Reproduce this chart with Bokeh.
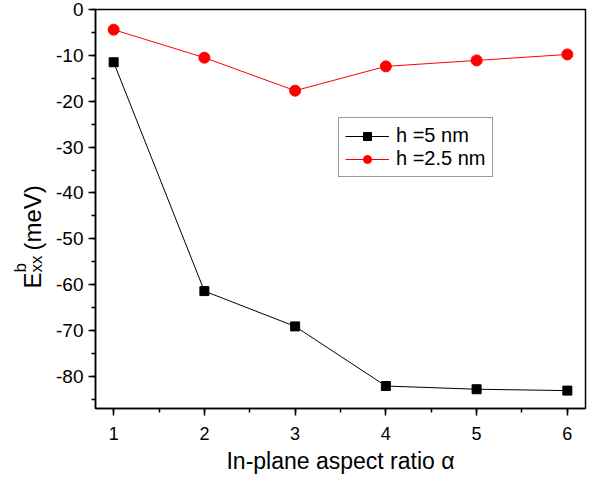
import math
from bokeh.plotting import figure
from bokeh.layouts import row
from bokeh.models import Range1d, Legend, LegendItem, SingleIntervalTicker, PrintfTickFormatter
from bokeh.core.properties import value
from bokeh.embed import file_html
from bokeh.resources import INLINE

# ---- data ----
alpha = [1, 2, 3, 4, 5, 6]
e_h5 = [-11.5, -61.4, -69.1, -82.1, -82.8, -83.1]
e_h25 = [-4.4, -10.5, -17.7, -12.4, -11.1, -9.8]
series_labels = ["h =5 nm", "h =2.5 nm"]
x_label = "In-plane aspect ratio \u03b1"
y_label_main = "E"
y_label_sup = "b"
y_label_sub = "xx"
y_label_unit = "(meV)"

FONT = "Liberation Sans"
FW, FH = 490, 399
TOP, BOTTOM = 9, 73
H = TOP + FH + BOTTOM
LW = 50
MAIN_W = 45 + FW + 2

p = figure(width=MAIN_W, height=H, output_backend="svg", toolbar_location=None,
           x_range=Range1d(0.8, 6.2), y_range=Range1d(-87, 0),
           min_border_left=45, min_border_right=2, min_border_top=TOP, min_border_bottom=BOTTOM)
p.grid.visible = False
p.outline_line_color = "black"
p.outline_line_width = 1.5
p.background_fill_color = "white"
p.border_fill_color = "white"

# axes
p.xaxis.ticker = SingleIntervalTicker(interval=1, num_minor_ticks=2)
p.yaxis.ticker = SingleIntervalTicker(interval=10, num_minor_ticks=2)
p.yaxis.formatter = PrintfTickFormatter(format="%d")
for ax in (p.xaxis[0], p.yaxis[0]):
    ax.axis_line_color = "black"
    ax.axis_line_width = 1.5
    ax.major_tick_line_color = "black"
    ax.major_tick_line_width = 1.5
    ax.minor_tick_line_color = "black"
    ax.minor_tick_line_width = 1.5
    ax.major_tick_out = 7
    ax.major_tick_in = 0
    ax.minor_tick_out = 4
    ax.minor_tick_in = 0
    ax.major_label_text_font = FONT
    ax.major_label_text_color = "black"
p.xaxis.major_label_text_font_size = "18px"
p.yaxis.major_label_text_font_size = "19px"
p.xaxis.major_label_standoff = 11
p.yaxis.major_label_standoff = 5
p.xaxis.axis_label = x_label
p.xaxis.axis_label_text_font = FONT
p.xaxis.axis_label_text_font_size = "23px"
p.xaxis.axis_label_text_font_style = "normal"
p.xaxis.axis_label_text_color = "black"
p.xaxis.axis_label_standoff = 5

# series
l1 = p.line(alpha, e_h5, line_color="black", line_width=1)
m1 = p.scatter(alpha, e_h5, marker="square", size=9, fill_color="black", line_color="black")
l2 = p.line(alpha, e_h25, line_color="red", line_width=1)
m2 = p.scatter(alpha, e_h25, marker="circle", size=11, fill_color="red", line_color="red")

legend = Legend(items=[LegendItem(label=series_labels[0], renderers=[l1, m1]),
                       LegendItem(label=series_labels[1], renderers=[l2, m2])],
                location=(243, 231), margin=0, padding=6,
                glyph_width=44, glyph_height=20, label_height=20, spacing=0,
                label_standoff=7, label_text_font=FONT, label_text_font_size="20px",
                label_text_line_height=1.0,
                label_text_color="black", border_line_color="#333333", border_line_width=1,
                background_fill_alpha=1.0)
p.add_layout(legend, "center")

# ---- y-axis title panel (pixel-like coordinates: x from left, y from top) ----
t = figure(frame_width=LW, frame_height=H, output_backend="svg", toolbar_location=None,
           x_range=Range1d(0, LW), y_range=Range1d(H, 0),
           min_border_left=0, min_border_right=0, min_border_top=0, min_border_bottom=0,
           x_axis_location=None, y_axis_location=None)
t.grid.visible = False
t.outline_line_color = None
t.background_fill_color = "white"
t.border_fill_color = "white"
rot = math.pi / 2
t.text(x=[32], y=[279], text=[y_label_main], angle=rot, text_font=value(FONT),
       text_font_size="24px", text_align="left", text_baseline="alphabetic", text_color="black")
t.text(x=[36], y=[263], text=[y_label_sub], angle=rot, text_font=value(FONT),
       text_font_size="17px", text_align="left", text_baseline="alphabetic", text_color="black")
t.text(x=[20], y=[263], text=[y_label_sup], angle=rot, text_font=value(FONT),
       text_font_size="17px", text_align="left", text_baseline="alphabetic", text_color="black")
t.text(x=[32], y=[241], text=[y_label_unit], angle=rot, text_font=value(FONT),
       text_font_size="24px", text_align="left", text_baseline="alphabetic", text_color="black")

layout = row(t, p)
open("out.html", "w").write(file_html(layout, INLINE))
